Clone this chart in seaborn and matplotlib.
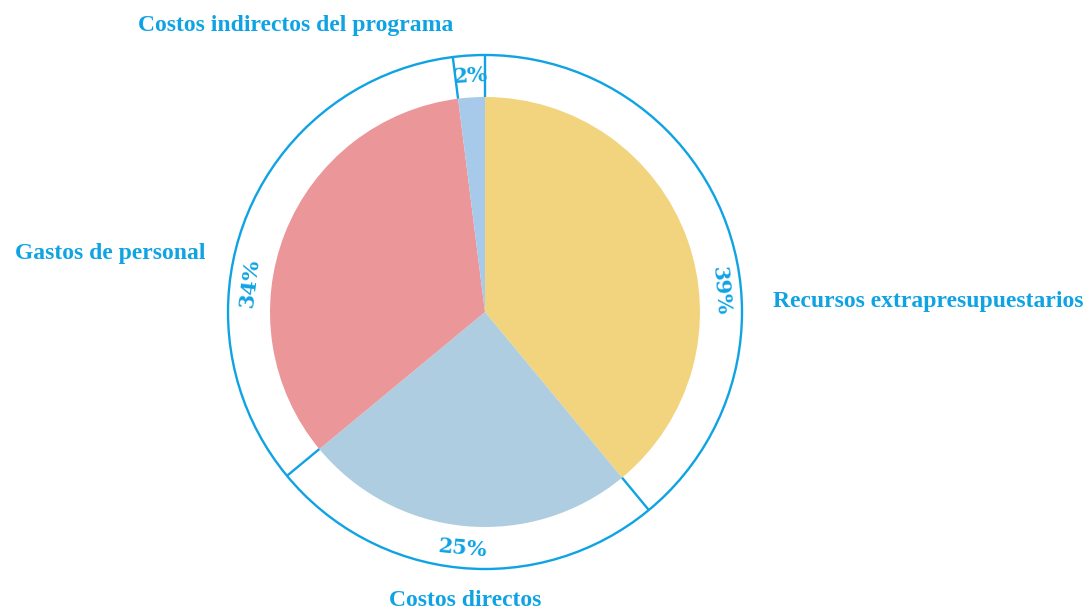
import numpy as np
import matplotlib.pyplot as plt
import seaborn as sns

# data
categorias = ["Recursos extrapresupuestarios", "Costos directos",
              "Gastos de personal", "Costos indirectos del programa"]
porcentajes = [39, 25, 34, 2]
colores = ["#F2D47E", "#AECDE1", "#EB9699", "#A7CAEB"]

azul = "#0FA3E3"

sns.set_theme(style="white")
plt.rcParams["font.family"] = ["Liberation Serif", "DejaVu Serif"]

fig = plt.figure(figsize=(10.91, 6.12), dpi=100)
ax = fig.add_axes([0, 0, 1, 1])

cx, cy = 485, 300
r_pie, r_ring = 215, 257

ax.pie(porcentajes, colors=colores, startangle=90, counterclock=False,
       center=(cx, cy), radius=r_pie, frame=True,
       wedgeprops=dict(linewidth=0))
ax.set_xlim(0, 1091)
ax.set_ylim(0, 612)
ax.set_aspect("equal")
ax.axis("off")

# outer ring
ax.add_patch(plt.Circle((cx, cy), r_ring, fill=False, color=azul, lw=1.7))

# radial separators in the ring
bordes = 90 - np.cumsum([0] + porcentajes[:-1]) * 3.6
for a in bordes:
    t = np.deg2rad(a)
    ax.plot([cx + r_pie * np.cos(t), cx + r_ring * np.cos(t)],
            [cy + r_pie * np.sin(t), cy + r_ring * np.sin(t)],
            color=azul, lw=1.7, solid_capstyle="butt")

# percentage labels inside the ring
ang_pct = [5, -95.4, 173, 93.6]
rot_pct = [-85, -5.4, 83, 3.6]
for p, a, rot in zip(porcentajes, ang_pct, rot_pct):
    t = np.deg2rad(a)
    ax.text(cx + 237 * np.cos(t), cy + 237 * np.sin(t), f"{p}%",
            ha="center", va="center", rotation=rot, rotation_mode="anchor",
            color=azul, fontsize=15, fontweight="bold", family="DejaVu Serif")

# category labels
pos_cat = [(928, 311), (465, 12), (110, 359), (296, 587)]
for c, (x, y) in zip(categorias, pos_cat):
    ax.text(x, y, c, ha="center", va="center", color=azul,
            fontsize=17, fontweight="bold")

fig.savefig("out.png", dpi=100)
